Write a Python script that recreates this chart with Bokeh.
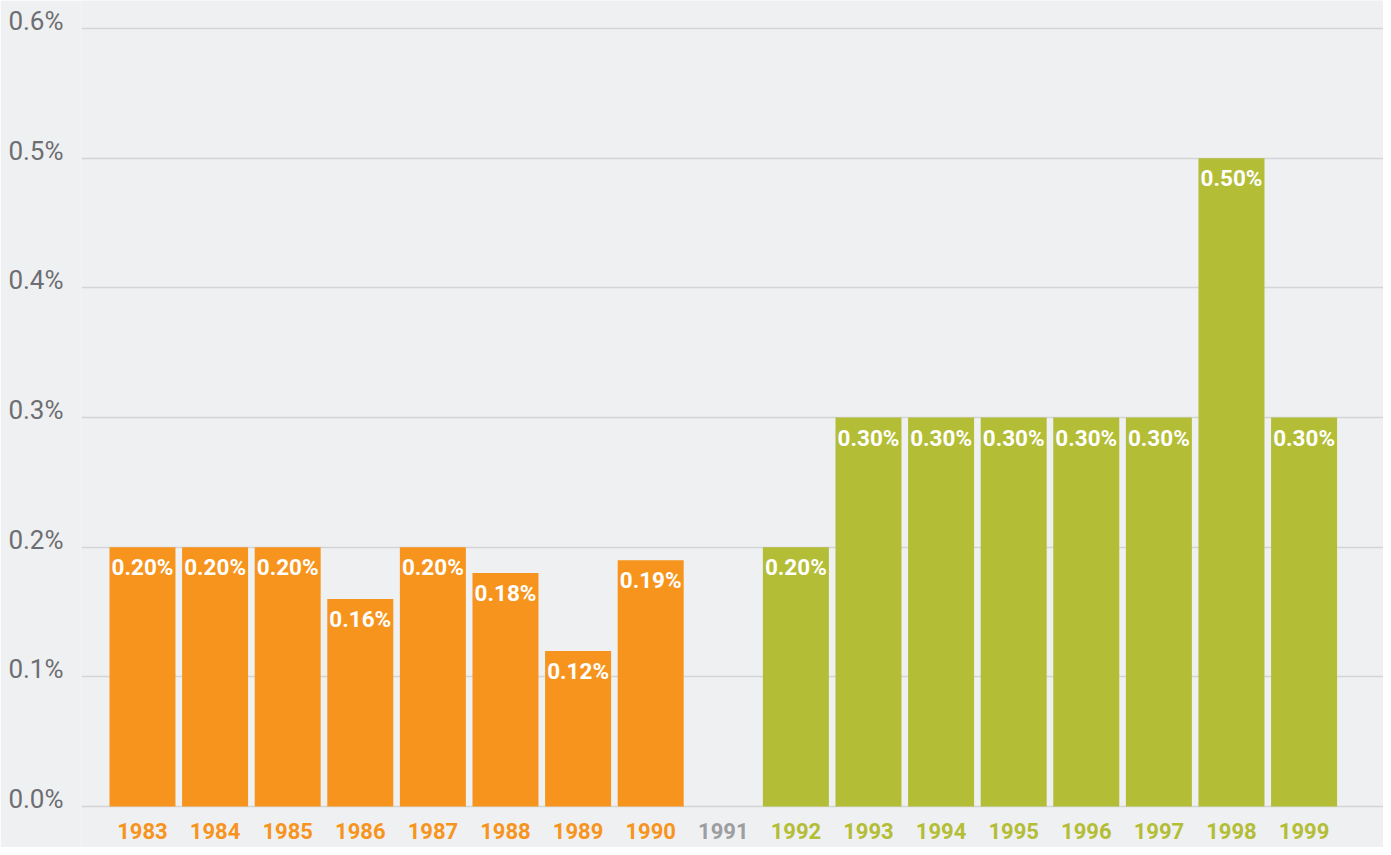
from bokeh.plotting import figure
from bokeh.models import ColumnDataSource, FixedTicker, PrintfTickFormatter, Range1d, LinearAxis
from bokeh.core.properties import value
from bokeh.embed import file_html
from bokeh.resources import INLINE

years = ["1983", "1984", "1985", "1986", "1987", "1988", "1989", "1990", "1991",
         "1992", "1993", "1994", "1995", "1996", "1997", "1998", "1999"]
rates = [0.20, 0.20, 0.20, 0.16, 0.20, 0.18, 0.12, 0.19, None,
         0.20, 0.30, 0.30, 0.30, 0.30, 0.30, 0.50, 0.30]
periods = ["before", "before", "before", "before", "before", "before", "before", "before", "gap",
           "after", "after", "after", "after", "after", "after", "after", "after"]
y_ticks = [0.0, 0.1, 0.2, 0.3, 0.4, 0.5, 0.6]

palette = {"before": "#F7941D", "after": "#B3BD35", "gap": "#9C9EA1"}
BG = "#EFF0F2"

idx = list(range(len(years)))
bar_x = [i for i, r in zip(idx, rates) if r is not None]
bar_top = [r for r in rates if r is not None]
bar_col = [palette[g] for g, r in zip(periods, rates) if r is not None]
bar_lab = ["%.2f%%" % r for r in bar_top]

bars = ColumnDataSource(dict(x=bar_x, top=bar_top, color=bar_col, label=bar_lab))
cats = ColumnDataSource(dict(x=idx, y=[0.0] * len(idx), text=years,
                             color=[palette[g] for g in periods]))

W, H = 1383, 847
px_per_unit = 1296.7
y0, y1 = -(847 - 806) / px_per_unit, 0.6 + 28 / px_per_unit
shift = 7.5 / px_per_unit

p = figure(width=W, height=H, output_backend="svg", toolbar_location=None,
           x_range=(-0.84, 17.094), y_range=(y0, y1),
           min_border_left=81, min_border_right=0, min_border_top=0, min_border_bottom=0)
p.background_fill_color = BG
p.border_fill_color = BG
p.outline_line_color = None

p.xaxis.visible = False
p.xgrid.visible = False
p.yaxis.visible = False

p.extra_y_ranges = {"lab": Range1d(y0 - shift, y1 - shift)}
yax = LinearAxis(y_range_name="lab")
yax.ticker = FixedTicker(ticks=y_ticks)
yax.formatter = PrintfTickFormatter(format="%.1f%%")
yax.axis_line_color = None
yax.major_tick_line_color = None
yax.minor_tick_line_color = None
yax.major_tick_out = 0
yax.major_tick_in = 0
yax.major_label_standoff = 18
yax.major_label_text_font = "Roboto"
yax.major_label_text_font_size = "26px"
yax.major_label_text_color = "#6D6E71"
p.add_layout(yax, "left")

p.ygrid.ticker = FixedTicker(ticks=y_ticks)
p.ygrid.grid_line_color = "#D2D4D7"
p.ygrid.grid_line_width = 1.5

p.vbar(x="x", top="top", bottom=0, width=0.909, fill_color="color", line_color=None, source=bars)

p.text(x="x", y="top", text="label", source=bars, text_color="white",
       text_font=value("Roboto"), text_font_style="bold", text_font_size="22.5px",
       text_align="center", text_baseline="top", y_offset=7)

p.text(x="x", y="y", text="text", source=cats, text_color="color",
       text_font=value("Roboto"), text_font_style="bold", text_font_size="22px",
       text_align="center", text_baseline="top", y_offset=16)

open("out.html", "w").write(file_html(p, INLINE))
